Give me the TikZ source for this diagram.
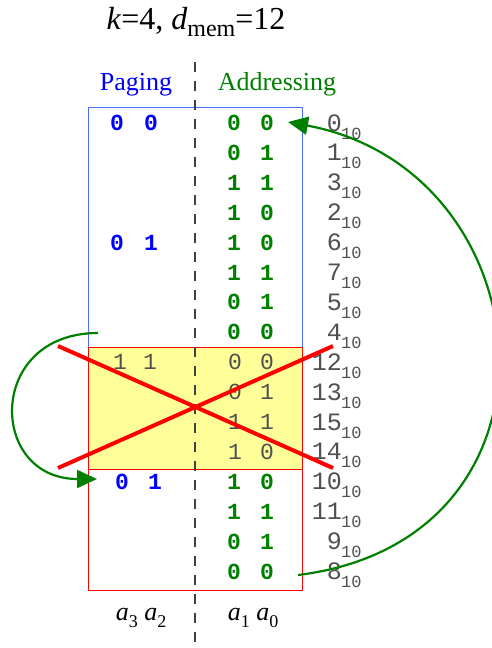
\documentclass[tikz,border=0pt]{standalone}
\usepackage{fontspec}
\setmainfont{Liberation Serif}
\newfontfamily\monof{Liberation Mono}
\usetikzlibrary{arrows.meta}
\definecolor{pblue}{RGB}{0,0,255}
\definecolor{agreen}{RGB}{0,128,0}
\definecolor{dgray}{RGB}{80,80,80}
\definecolor{boxblue}{RGB}{70,110,255}
\definecolor{hlyellow}{RGB}{255,255,153}
\definecolor{xred}{RGB}{255,0,0}
\begin{document}
\begin{tikzpicture}[x=1pt,y=-1pt,
  bitb/.style={font=\monof\bfseries\fontsize{23}{23}\selectfont, inner sep=0pt, anchor=center},
  bitg/.style={font=\monof\fontsize{23}{23}\selectfont, inner sep=0pt, anchor=center, text=dgray},
  decmain/.style={font=\monof\fontsize{25}{25}\selectfont, inner sep=0pt, anchor=base east, text=dgray},
  decsub/.style={font=\monof\fontsize{17}{17}\selectfont, inner sep=0pt, anchor=base west, text=dgray},
  head/.style={font=\fontsize{26}{26}\selectfont, inner sep=0pt},
  garrow/.style={draw=agreen, line width=2.2pt, -{Triangle[length=20pt,width=18pt]}},
  xline/.style={draw=xred, line width=4pt},
  divider/.style={draw=black!75, line width=1.1pt, dash pattern=on 10pt off 9pt}
]
\useasboundingbox (0,0) rectangle (492,648);

% boxes
\draw[boxblue, line width=0.8pt] (88,107) rectangle (302,347);
\draw[xred, line width=0.8pt] (88,347) rectangle (302,590);
\fill[hlyellow] (88,347) rectangle (302,469);
\draw[xred, line width=0.8pt] (88,347) rectangle (302,469);

% divider
\coordinate (dtop) at (195,62);
\coordinate (dbot) at (195,648);
\draw[divider] (dtop) -- (dbot);

% title and headings
\node[inner sep=0pt, anchor=base] (title) at (196,29)
  {\fontsize{32}{32}\selectfont\textit{k}=4, \textit{d}\raisebox{-7pt}{\fontsize{24}{24}\selectfont mem}=12};
\node[head, text=pblue, anchor=base] (paging) at (136,90) {Paging};
\node[head, text=agreen, anchor=base] (addr) at (277,90) {Addressing};

% green address bits
\foreach \i/\a/\b in {0/0/0,1/0/1,2/1/1,3/1/0,4/1/0,5/1/1,6/0/1,7/0/0,12/1/0,13/1/1,14/0/1,15/0/0}{
  \pgfmathsetmacro{\yy}{123+29.9*\i}
  \node[bitb, text=agreen] (ga\i) at (234,\yy) {\a};
  \node[bitb, text=agreen] (gb\i) at (267,\yy) {\b};
}
% grey crossed-out bits
\foreach \i/\a/\b in {8/0/0,9/0/1,10/1/1,11/1/0}{
  \pgfmathsetmacro{\yy}{123+29.9*\i}
  \node[bitg] (ya\i) at (235,\yy) {\a};
  \node[bitg] (yb\i) at (267,\yy) {\b};
}
% paging bits
\node[bitb, text=pblue] (pa0) at (117,123) {0};
\node[bitb, text=pblue] (pb0) at (151,123) {0};
\node[bitb, text=pblue] (pa4) at (117,242.6) {0};
\node[bitb, text=pblue] (pb4) at (151,242.6) {1};
\node[bitg] (pa8) at (120,362.2) {1};
\node[bitg] (pb8) at (150,362.2) {1};
\node[bitb, text=pblue] (pa12) at (122,481.8) {0};
\node[bitb, text=pblue] (pb12) at (155,481.8) {1};

% decimal labels
\foreach \i/\d in {0/0,1/1,2/3,3/2,4/6,5/7,6/5,7/4,8/12,9/13,10/15,11/14,12/10,13/11,14/9,15/8}{
  \pgfmathsetmacro{\yy}{123+29.9*\i+8}
  \pgfmathsetmacro{\ys}{123+29.9*\i+16}
  \node[decmain] (dm\i) at (342,\yy) {\d};
  \node[decsub] (ds\i) at (341,\ys) {10};
}

% bottom labels
\node[inner sep=0pt, anchor=base] (alo) at (141,620)
  {\fontsize{26}{26}\selectfont\textit{a}\raisebox{-7pt}{\fontsize{18}{18}\selectfont 3} \textit{a}\raisebox{-7pt}{\fontsize{18}{18}\selectfont 2}};
\node[inner sep=0pt, anchor=base] (ahi) at (253,620)
  {\fontsize{26}{26}\selectfont\textit{a}\raisebox{-7pt}{\fontsize{18}{18}\selectfont 1} \textit{a}\raisebox{-7pt}{\fontsize{18}{18}\selectfont 0}};

% red cross
\coordinate (x1) at (58,346);
\coordinate (x2) at (333,468);
\coordinate (x3) at (58,468);
\coordinate (x4) at (333,346);
\draw[xline] (x1) -- (x2);
\draw[xline] (x3) -- (x4);

% green arrows
\coordinate (ls) at (98,333);
\coordinate (le) at (97,479);
\draw[garrow] (ls) .. controls (-14,333) and (-12,479) .. (le);
\coordinate (rs) at (298,575);
\coordinate (re) at (288,122);
\draw[garrow] (rs) .. controls (582,540) and (547,170) .. (re);
\end{tikzpicture}
\end{document}
